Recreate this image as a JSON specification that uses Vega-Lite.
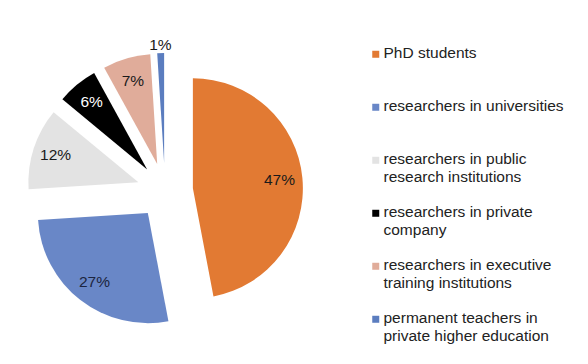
{
  "$schema": "https://vega.github.io/schema/vega-lite/v6.json",
  "width": 330,
  "height": 346,
  "padding": {"left": 0, "top": 18, "right": 0, "bottom": 0},
  "background": "white",
  "config": {"view": {"stroke": null}, "font": "Liberation Sans"},
  "data": {
    "values": [
      {"category": "PhD students", "share": 0.47, "rank": 1},
      {"category": "researchers in universities", "share": 0.27, "rank": 2},
      {"category": "researchers in public research institutions", "share": 0.12, "rank": 3},
      {"category": "researchers in private company", "share": 0.06, "rank": 4},
      {"category": "researchers in executive training institutions", "share": 0.07, "rank": 5},
      {"category": "permanent teachers in private higher education", "share": 0.01, "rank": 6}
    ]
  },
  "encoding": {
    "theta": {"field": "share", "type": "quantitative", "stack": true},
    "order": {"field": "rank", "type": "quantitative"}
  },
  "layer": [
    {
      "mark": {
        "type": "arc",
        "outerRadius": 110,
        "xOffset": {"expr": "28*sin(scale('theta',(datum.share_start+datum.share_end)/2))"},
        "yOffset": {"expr": "-28*cos(scale('theta',(datum.share_start+datum.share_end)/2))"}
      },
      "encoding": {
        "color": {
          "field": "category",
          "type": "nominal",
          "sort": null,
          "scale": {
            "domain": ["PhD students", "researchers in universities", "researchers in public research institutions", "researchers in private company", "researchers in executive training institutions", "permanent teachers in private higher education"],
            "range": ["#E27A33", "#6987C7", "#E3E3E3", "#000000", "#E0AC9A", "#5B7DBF"]
          },
          "legend": {
            "orient": "none",
            "legendX": 368,
            "legendY": 20.5,
            "title": null,
            "symbolType": "M-1,1.29H1V3.29H-1Z",
            "symbolSize": 49,
            "symbolStrokeWidth": 0,
            "labelFontSize": 15.5,
            "labelFont": "Liberation Sans",
            "labelColor": "#222222",
            "labelLimit": 300,
            "rowPadding": 12,
            "labelOffset": 0,
            "labelBaseline": "top",
            "labelExpr": "datum.label == 'PhD students' ? ['PhD students', ''] : datum.label == 'researchers in universities' ? ['\u00a0researchers in universities', ''] : datum.label == 'researchers in public research institutions' ? ['researchers in public', 'research institutions'] : datum.label == 'researchers in private company' ? ['researchers in private', 'company'] : datum.label == 'researchers in executive training institutions' ? ['researchers in executive', 'training institutions'] : ['permanent teachers in', 'private higher education']"
          }
        }
      }
    },
    {
      "mark": {
        "type": "text",
        "radius": {"expr": "datum.share < 0.02 ? 146 : 115"},
        "fontSize": 15.5,
        "font": "Liberation Sans",
        "fill": {"expr": "datum.share == 0.06 ? 'white' : datum.share == 0.27 ? '#1c2540' : '#1a1a1a'"}
      },
      "encoding": {
        "text": {"field": "share", "type": "quantitative", "format": ".0%"}
      }
    }
  ]
}
